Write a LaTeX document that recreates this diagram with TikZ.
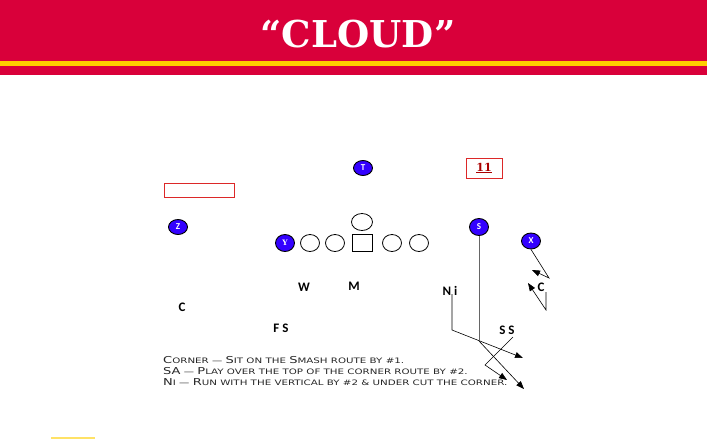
\documentclass[tikz,border=0pt]{standalone}
\usepackage{fontspec}
\usepackage{tikz}
\usetikzlibrary{shapes.geometric}
\usetikzlibrary{arrows.meta}
\newfontfamily\titlefont{DejaVu Serif}
\newfontfamily\lblfont{Carlito}
\newfontfamily\notefont[FakeStretch=1.37]{DejaVu Sans}
\definecolor{bandred}{RGB}{217,0,58}
\definecolor{bandyel}{RGB}{255,206,0}
\definecolor{offblue}{RGB}{51,0,255}
\definecolor{boxred}{RGB}{220,40,40}
\definecolor{numred}{RGB}{170,0,0}
\newcommand\bigc[1]{{\fontsize{9.5}{9.5}\selectfont #1}}

\begin{document}
\begin{tikzpicture}[x=1pt,y=-1pt,
    off/.style={ellipse, draw=black, line width=0.9pt, fill=offblue, text=white,
      minimum width=19pt, minimum height=15pt, inner sep=0pt, font=\lblfont\bfseries\fontsize{9}{9}\selectfont},
    oline/.style={ellipse, draw=black, line width=0.8pt, fill=white,
      minimum width=19pt, minimum height=17pt, inner sep=0pt},
    dlbl/.style={font=\lblfont\bfseries\fontsize{13}{13}\selectfont, inner sep=0pt},
    rt/.style={draw=black, line width=0.6pt},
    tip/.style={-{Triangle[length=8pt,width=6pt]}},
    note/.style={anchor=base west, inner sep=0pt, text=black!85, font=\notefont\fontsize{7.5}{7.5}\selectfont}]
    \useasboundingbox (0,0) rectangle (707,440);
    % 绘制标题
    \fill[bandred] (0,0) rectangle (707,75);
    \fill[bandyel] (0,61) rectangle (707,66);
    \node[text=white, font=\titlefont\bfseries\fontsize{37}{37}\selectfont] (title) at (358,34) {“CLOUD”};
    \fill[bandyel!60] (51,437) rectangle (95,439);

    \node[draw=boxred, line width=0.8pt, minimum width=70pt, minimum height=14pt, inner sep=0pt] (blank) at (199,190) {};
    \node[draw=boxred, line width=0.8pt, minimum width=36pt, minimum height=20pt, inner sep=0pt,
      text=numred, font=\titlefont\bfseries\fontsize{11}{11}\selectfont] (num) at (484,168) {\underline{11}};

    % 进攻球员
    \node[off] (T) at (363,168) {T};
    \node[off] (Z) at (178,227) {Z};
    \node[off, minimum height=17pt, font=\titlefont\bfseries\fontsize{7.5}{7.5}\selectfont] (Y) at (285,243) {Y};
    \node[oline] (lt) at (310,243) {};
    \node[oline] (lg) at (335,243) {};
    \node[draw=black, line width=0.8pt, fill=white, minimum width=20pt, minimum height=17pt, inner sep=0pt] (cen) at (362,243) {};
    \node[oline, minimum width=21pt] (qb) at (362,222) {};
    \node[oline] (rg) at (392,243) {};
    \node[oline] (rtk) at (419,243) {};
    \node[off, minimum height=17pt] (S) at (479,227) {S};
    \node[off, minimum height=16pt] (X) at (531,241) {X};

    % 防守球员
    \node[dlbl] (W) at (304,287) {W};
    \node[dlbl] (M) at (354,286) {M};
    \node[dlbl] (Ni) at (450,291) {N i};
    \node[dlbl] (CL) at (182,307) {C};
    \node[dlbl] (FS) at (281,328) {F S};
    \node[dlbl] (SS) at (507,330) {S S};
    \node[dlbl] (CR) at (541,287) {C};

    % 路线
    \coordinate (nitop) at (452,294);
    \coordinate (nibend) at (452,330);
    \coordinate (niend) at (523,358);
    \coordinate (sbend) at (479,341);
    \coordinate (send) at (524,389);
    \coordinate (sstop) at (513,337);
    \coordinate (ssbend) at (485,365);
    \coordinate (ssend) at (507,380);
    \coordinate (xbend) at (549,278);
    \coordinate (xend) at (532,270);
    \coordinate (ctop) at (546,292);
    \coordinate (cbend) at (546,310);
    \coordinate (cend) at (528,283);
    \draw[rt, tip] (nitop) -- (nibend) -- (niend);
    \draw[draw=black!60, line width=1pt] (S.south) -- (sbend);
    \draw[rt, tip] (sbend) -- (send);
    \draw[rt, tip] (sstop) -- (ssbend) -- (ssend);
    \draw[rt, tip] (X.south) -- (xbend) -- (xend);
    \draw[rt, tip] (ctop) -- (cbend) -- (cend);

    \node[note] (note1) at (163,363) {\bigc{C}ORNER — \bigc{S}IT ON THE \bigc{S}MASH ROUTE BY \#1.};
    \node[note] (note2) at (163,374) {\bigc{SA} — \bigc{P}LAY OVER THE TOP OF THE CORNER ROUTE BY \#2.};
    \node[note] (note3) at (163,385) {\bigc{N}I — \bigc{R}UN WITH THE VERTICAL BY \#2 \& UNDER CUT THE CORNER.};
\end{tikzpicture}
\end{document}
